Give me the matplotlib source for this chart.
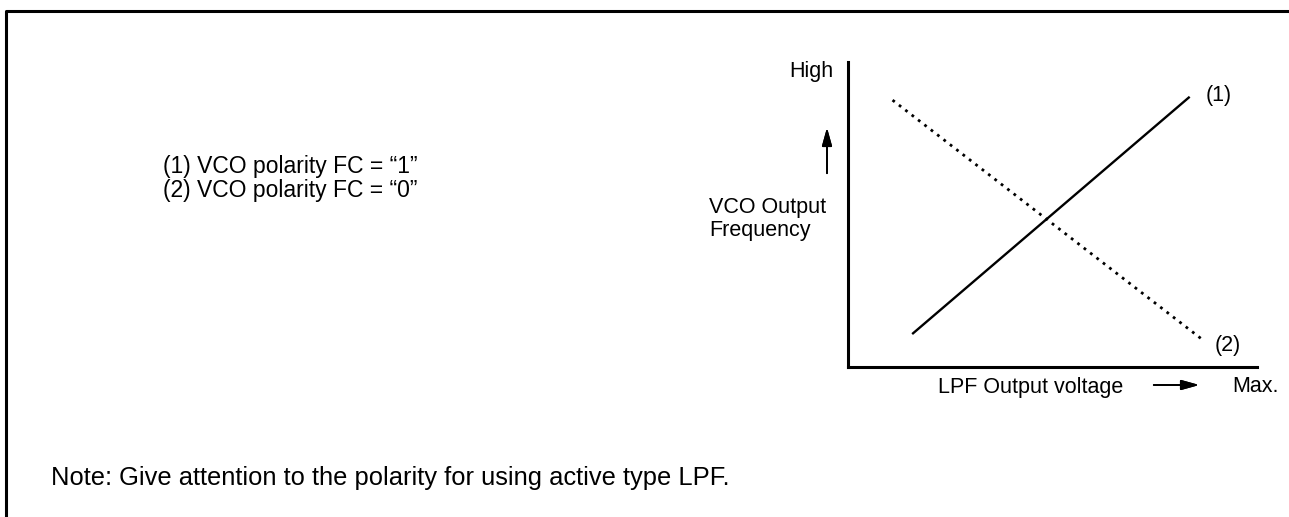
import matplotlib
matplotlib.use("Agg")
import matplotlib.pyplot as plt
from matplotlib.lines import Line2D

plt.rcParams['font.family'] = ['Liberation Sans', 'DejaVu Sans']

# Characteristic lines (normalised LPF voltage vs VCO frequency)
fc1_x = [0.157, 0.836]
fc1_y = [0.107, 0.885]
fc0_x = [0.109, 0.868]
fc0_y = [0.874, 0.088]

legend_lines = ['(1) VCO polarity FC = \u201c1\u201d', '(2) VCO polarity FC = \u201c0\u201d']
note_text = 'Note: Give attention to the polarity for using active type LPF.'

W, H = 1289, 517
fig = plt.figure(figsize=(W / 100, H / 100), dpi=100)

def fx(px):
    return px / W

def fy(py):
    return 1 - py / H

# outer frame (top and left only)
fig.add_artist(Line2D([fx(6), fx(6), 1.0], [0.0, fy(11), fy(11)], color='black', lw=2.2))

# plot area
ax = fig.add_axes([fx(848), fy(366.7), fx(1256.7) - fx(848), fy(61.7) - fy(366.7)])
ax.set_xlim(0, 1)
ax.set_ylim(0, 1)
for s in ['top', 'right']:
    ax.spines[s].set_visible(False)
for s in ['left', 'bottom']:
    ax.spines[s].set_linewidth(2.2)
ax.set_xticks([])
ax.set_yticks([])
ax.patch.set_alpha(0)

ax.plot(fc1_x, fc1_y, color='black', lw=1.7, solid_capstyle='butt')
ax.plot(fc0_x, fc0_y, color='black', lw=2.0, linestyle=(0, (1.0, 1.9)))

fs = 15.5
ax.text(fc1_x[1] + 0.04, fc1_y[1] + 0.005, '(1)', fontsize=fs, ha='left', va='center')
ax.text(fc0_x[1] + 0.03, fc0_y[1] - 0.02, '(2)', fontsize=fs, ha='left', va='center')

fig.text(fx(833), fy(72), 'High', fontsize=fs, ha='right', va='center')
fig.text(fx(709), fy(219), 'VCO Output\nFrequency', fontsize=fs, ha='left', va='center',
         linespacing=1.1)
fig.text(fx(938), fy(387), 'LPF Output voltage', fontsize=fs, ha='left', va='center')
fig.text(fx(1232), fy(387), 'Max.', fontsize=fs, ha='left', va='center')

arrow_kw = dict(arrowstyle='-|>,head_length=0.9,head_width=0.25', color='black', lw=1.3,
                mutation_scale=12)
fig.add_artist(plt.annotate('', xy=(fx(827), fy(125)), xytext=(fx(827), fy(176)),
                            xycoords='figure fraction', textcoords='figure fraction',
                            arrowprops=arrow_kw))
fig.add_artist(plt.annotate('', xy=(fx(1202), fy(385)), xytext=(fx(1151), fy(385)),
                            xycoords='figure fraction', textcoords='figure fraction',
                            arrowprops=arrow_kw))

fig.text(fx(163), fy(167), legend_lines[0], fontsize=16.5, ha='left', va='center')
fig.text(fx(163), fy(190), legend_lines[1], fontsize=16.5, ha='left', va='center')
fig.text(fx(51), fy(478), note_text, fontsize=18.4, ha='left', va='center')

fig.savefig('out.png', dpi=100)
